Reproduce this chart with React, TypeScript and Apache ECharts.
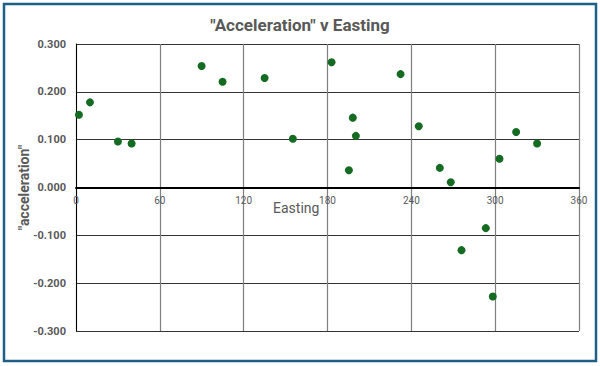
import React, { useEffect, useRef } from "react";
import * as echarts from "echarts";

const eastings = [2.1, 10.0, 30.0, 39.8, 89.9, 104.9, 135.0, 155.2, 182.9, 198.1, 200.3, 195.3, 232.3, 245.3, 260.4, 268.2, 275.9, 293.3, 298.3, 303.1, 315.0, 330.0];
const accelerations = [0.152, 0.178, 0.096, 0.092, 0.254, 0.221, 0.229, 0.102, 0.262, 0.146, 0.108, 0.036, 0.237, 0.128, 0.041, 0.011, -0.131, -0.085, -0.228, 0.060, 0.116, 0.092];

const titleText = '"Acceleration" v Easting';
const xAxisName = "Easting";
const yAxisName = '"acceleration"';

const FONT = "'Roboto', sans-serif";

export default function App() {
  const ref = useRef<HTMLDivElement>(null);
  useEffect(() => {
    document.body.style.margin = "0";
    const chart = echarts.init(ref.current!, null, { renderer: "svg" });
    const data = eastings.map((x, i) => [x, accelerations[i]]);
    chart.setOption({
      animation: false,
      backgroundColor: "#ffffff",
      textStyle: { fontFamily: FONT },
      title: {
        text: titleText,
        left: "center",
        top: 11,
        textStyle: { fontFamily: FONT, fontSize: 17, fontWeight: "bold", color: "#595959" },
      },
      grid: { left: 76, right: 21, top: 44, bottom: 35, containLabel: false },
      xAxis: {
        type: "value",
        min: 0,
        max: 360,
        interval: 60,
        offset: -143.5,
        axisLine: { onZero: false, lineStyle: { color: "#000000", width: 2 } },
        axisTick: { show: false },
        axisLabel: { color: "#595959", fontSize: 10, margin: 8, fontFamily: FONT },
        splitLine: { show: true, lineStyle: { color: "#7f7f7f", width: 1.2 } },
      },
      yAxis: {
        type: "value",
        min: -0.3,
        max: 0.3,
        interval: 0.1,
        name: yAxisName,
        nameLocation: "middle",
        nameGap: 45,
        nameMoveOverlap: false,
        nameRotate: 90,
        nameTextStyle: { color: "#595959", fontSize: 14, fontWeight: "bold", fontFamily: FONT },
        axisLine: { show: true, onZero: false, lineStyle: { color: "#000000", width: 1 } },
        axisTick: { show: false },
        axisLabel: {
          color: "#595959",
          fontSize: 11,
          fontWeight: "bold",
          margin: 10,
          fontFamily: FONT,
          formatter: (v: number) => (Math.abs(v) < 1e-9 ? 0 : v).toFixed(3),
        },
        splitLine: { show: true, lineStyle: { color: "#333333", width: 1 } },
      },
      graphic: [
        {
          type: "text",
          left: 273,
          top: 201,
          style: { text: xAxisName, fontSize: 14, fontFamily: FONT, fill: "#595959" },
          z: 10,
        },
        {
          type: "rect",
          shape: { x: 4, y: 4, width: 592, height: 357 },
          style: { fill: "none", stroke: "#1f5f86", lineWidth: 2.5 },
          silent: true,
          z: 20,
        },
      ],
      series: [
        {
          type: "scatter",
          data,
          symbol: "circle",
          symbolSize: 8,
          itemStyle: { color: "#156b22", opacity: 1 },
          z: 5,
        },
      ],
    });
    return () => chart.dispose();
  }, []);
  return <div ref={ref} style={{ width: 600, height: 366, position: "absolute", left: 0, top: 0 }} />;
}
